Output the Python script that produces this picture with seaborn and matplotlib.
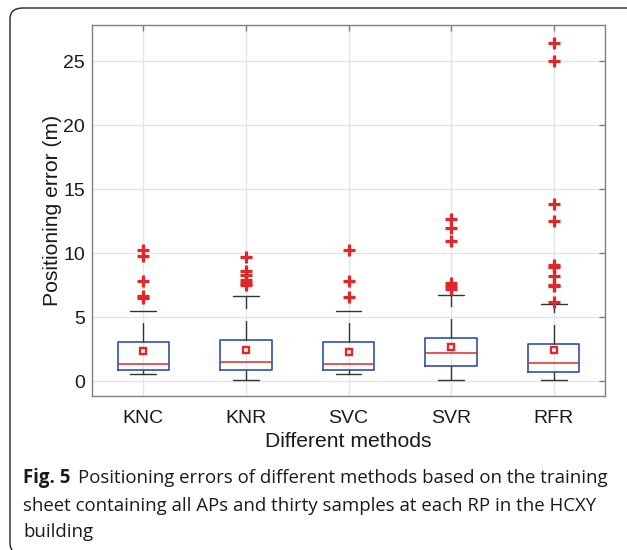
import numpy as np
import pandas as pd
import matplotlib
matplotlib.use("Agg")
import matplotlib.pyplot as plt
import seaborn as sns
from matplotlib.patches import FancyBboxPatch

# ---------------- data ----------------
methods = ["KNC", "KNR", "SVC", "SVR", "RFR"]
q1_vals = [0.86, 0.86, 0.86, 1.17, 0.75]
median_vals = [1.35, 1.48, 1.35, 2.19, 1.40]
q3_vals = [3.05, 3.25, 3.10, 3.41, 2.89]
whisker_low = [0.60, 0.10, 0.60, 0.10, 0.10]
whisker_high = [5.47, 6.64, 5.47, 6.72, 6.04]
mean_vals = [2.34, 2.42, 2.27, 2.68, 2.42]
outliers_knc = [6.50, 6.65, 7.84, 9.80, 10.30]
outliers_knr = [7.50, 7.70, 7.95, 8.30, 8.60, 9.74]
outliers_svc = [6.60, 7.84, 10.30]
outliers_svr = [7.20, 7.45, 7.65, 10.98, 11.95, 12.68]
outliers_rfr = [6.22, 7.45, 7.55, 8.25, 8.90, 9.09, 12.50, 13.85, 25.05, 26.48]
outliers = [outliers_knc, outliers_knr, outliers_svc, outliers_svr, outliers_rfr]

y_ticks = [0, 5, 10, 15, 20, 25]
x_label = "Different methods"
y_label = "Positioning error (m)"
caption_bold = "Fig. 5"
caption_lines = [
    "Positioning errors of different methods based on the training",
    "sheet containing all APs and thirty samples at each RP in the HCXY",
    "building",
]

# ---------------- style ----------------
sns.set_style("white")
plt.rcParams["font.family"] = ["Liberation Sans", "DejaVu Sans"]

BLUE = "#2c4fb0"
RED = "#e0282a"
WHISK = "#333333"
SPINE = "#808080"

fig = plt.figure(figsize=(6.27, 5.5), dpi=100)
ax = fig.add_axes([92 / 627, 1 - 396 / 550, (605 - 92) / 627, (396 - 25) / 550])

# outliers via seaborn (categorical axis)
out_df = pd.DataFrame(
    [(m, v) for m, vals in zip(methods, outliers) for v in vals],
    columns=["method", "value"],
)
sns.stripplot(data=out_df, x="method", y="value", order=methods, jitter=False,
              marker="+", color=RED, size=8.5, linewidth=2.3, ax=ax, zorder=4)

# boxes
stats = []
for i, m in enumerate(methods):
    stats.append(dict(label=m, q1=q1_vals[i], med=median_vals[i], q3=q3_vals[i],
                      whislo=whisker_low[i], whishi=whisker_high[i],
                      mean=mean_vals[i], fliers=[]))
ax.bxp(stats, positions=np.arange(len(methods)), widths=0.5,
       showmeans=True, showfliers=False, manage_ticks=False,
       boxprops=dict(color=BLUE, linewidth=1.2),
       medianprops=dict(color=RED, linewidth=1.1),
       whiskerprops=dict(color=WHISK, linewidth=1.0, linestyle=(0, (14, 8.6))),
       capprops=dict(color=WHISK, linewidth=1.0),
       meanprops=dict(marker="s", markerfacecolor="none", markeredgecolor=RED,
                      markersize=4.5, markeredgewidth=1.7),
       zorder=3)

ax.set_xlim(-0.5, len(methods) - 0.5)
ax.set_ylim(-1.15, 27.85)
ax.set_yticks(y_ticks)
ax.set_xticks(np.arange(len(methods)))
ax.set_xticklabels(methods)
ax.grid(True, color="#e4e4e4", linewidth=1.0)
ax.set_axisbelow(True)
for s in ax.spines.values():
    s.set_visible(True)
    s.set_color(SPINE)
    s.set_linewidth(1.0)
ax.tick_params(direction="in", length=4, width=1, color=SPINE, top=True, right=True,
               labelsize=14, labelcolor="#1a1a1a", pad=5)
ax.tick_params(axis="x", pad=10)
ax.set_xlabel(x_label, fontsize=15.2, color="#1a1a1a", labelpad=4)
ax.set_ylabel(y_label, fontsize=15.2, color="#1a1a1a", labelpad=1)

# frame around figure
W, H = 627, 550
frame = FancyBboxPatch((10 / W, -4 / H), (W + 20) / W, (H - 8 + 4) / H,
                       boxstyle="round,pad=0,rounding_size=0.02",
                       transform=fig.transFigure, facecolor="none",
                       edgecolor="#222222", linewidth=1.0, clip_on=False)
fig.patches.append(frame)

# caption
cap_font = ["Open Sans", "DejaVu Sans"]
cap_size = 13.4
x0 = 23 / W
line_y = [478, 506, 532]
t = fig.text(x0, 1 - line_y[0] / H, caption_bold, fontsize=cap_size, fontweight="bold",
             family=cap_font, va="center", ha="left", color="#1a1a1a")
fig.canvas.draw()
bb = t.get_window_extent(fig.canvas.get_renderer())
fig.text(bb.x1 / W + 8 / W, 1 - line_y[0] / H, caption_lines[0], fontsize=cap_size,
         family=cap_font, va="center", ha="left", color="#1a1a1a")
for ln, yy in zip(caption_lines[1:], line_y[1:]):
    fig.text(x0, 1 - yy / H, ln, fontsize=cap_size, family=cap_font,
             va="center", ha="left", color="#1a1a1a")

fig.savefig("out.png", dpi=100)
